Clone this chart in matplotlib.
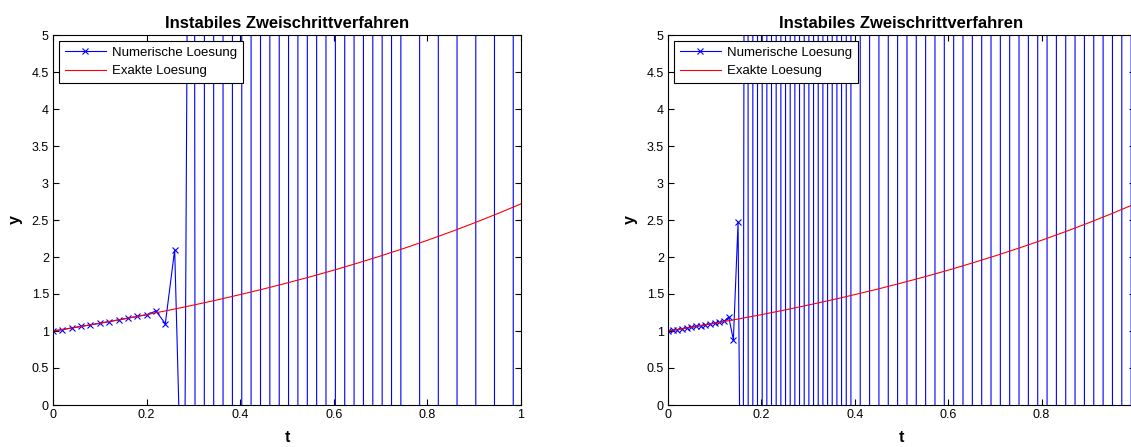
import matplotlib
matplotlib.use("Agg")
import matplotlib.pyplot as plt

# Data #######################################################################

# step h = 0.02 (left panel)
t_left = [0.00, 0.02, 0.04, 0.06, 0.08, 0.10, 0.12, 0.14, 0.16, 0.18,
          0.20, 0.22, 0.24, 0.26, 0.28, 0.30, 0.32, 0.34, 0.36, 0.38,
          0.40, 0.42, 0.44, 0.46, 0.48, 0.50, 0.52, 0.54, 0.56, 0.58,
          0.60, 0.62, 0.64, 0.66, 0.68, 0.70, 0.72, 0.74, 0.76, 0.78,
          0.80, 0.82, 0.84, 0.86, 0.88, 0.90, 0.92, 0.94, 0.96, 0.98,
          1.00]
y_left = [1.000, 1.020, 1.041, 1.062, 1.083, 1.105, 1.127, 1.150, 1.174, 1.197,
          1.220, 1.270, 1.100, 2.100, -2.7, 2.1e1, -1.0e2, 5.0e2, -2.5e3, 1.25e4,
          -6.2e4, 3.1e5, -1.6e6, 7.8e6, -3.9e7, 1.9e8, -9.7e8, 4.9e9, -2.4e10, 1.2e11,
          -6.1e11, 3.0e12, -1.5e13, 7.6e13, -3.8e14, 1.9e15, -9.5e15, 4.7e16, -2.4e17, -1.2e18,
          5.9e18, 3.0e19, -1.5e20, -7.4e20, 3.7e21, 1.9e22, -9.3e22, -4.6e23, 2.3e24, 1.2e25,
          -5.8e25]

# step h = 0.01 (right panel)
t_right = [0.00, 0.01, 0.02, 0.03, 0.04, 0.05, 0.06, 0.07, 0.08, 0.09,
           0.10, 0.11, 0.12, 0.13, 0.14, 0.15, 0.16, 0.17, 0.18, 0.19,
           0.20, 0.21, 0.22, 0.23, 0.24, 0.25, 0.26, 0.27, 0.28, 0.29,
           0.30, 0.31, 0.32, 0.33, 0.34, 0.35, 0.36, 0.37, 0.38, 0.39,
           0.40, 0.41, 0.42, 0.43, 0.44, 0.45, 0.46, 0.47, 0.48, 0.49,
           0.50, 0.51, 0.52, 0.53, 0.54, 0.55, 0.56, 0.57, 0.58, 0.59,
           0.60, 0.61, 0.62, 0.63, 0.64, 0.65, 0.66, 0.67, 0.68, 0.69,
           0.70, 0.71, 0.72, 0.73, 0.74, 0.75, 0.76, 0.77, 0.78, 0.79,
           0.80, 0.81, 0.82, 0.83, 0.84, 0.85, 0.86, 0.87, 0.88, 0.89,
           0.90, 0.91, 0.92, 0.93, 0.94, 0.95, 0.96, 0.97, 0.98, 0.99,
           1.00]
y_right = [1.000, 1.010, 1.020, 1.030, 1.041, 1.051, 1.062, 1.073, 1.083, 1.094,
           1.105, 1.116, 1.130, 1.190, 0.880, 2.470, -5.3, 3.3e1, -1.6e2, 8.2e2,
           -4.1e3, 2.0e4, -1.0e5, 5.1e5, -2.6e6, 1.3e7, -6.4e7, 3.2e8, -1.6e9, 8.0e9,
           -4.0e10, 2.0e11, -1.0e12, 5.0e12, -2.5e13, 1.2e14, -6.2e14, 3.1e15, -1.6e16, 7.8e16,
           -3.9e17, -1.9e18, 9.7e18, 4.9e19, -2.4e20, -1.2e21, 6.1e21, 3.0e22, -1.5e23, -7.6e23,
           3.8e24, 1.9e25, -9.5e25, -4.7e26, 2.4e27, 1.2e28, -5.9e28, -3.0e29, 1.5e30, 7.4e30,
           -3.7e31, -1.9e32, 9.3e32, 4.6e33, -2.3e34, -1.2e35, 5.8e35, 2.9e36, -1.4e37, -7.2e37,
           3.6e38, 1.8e39, -9.0e39, -4.5e40, 2.3e41, 1.1e42, -5.6e42, -2.8e43, 1.4e44, 7.0e44,
           -3.5e45, -1.8e46, 8.8e46, 4.4e47, -2.2e48, -1.1e49, 5.5e49, 2.7e50, -1.4e51, -6.8e51,
           3.4e52, 1.7e53, -8.5e53, -4.3e54, 2.1e55, 1.1e56, -5.3e56, -2.7e57, 1.3e58, 6.7e58,
           -3.3e59]

# exact solution
t_exact = [0.00, 0.05, 0.10, 0.15, 0.20, 0.25, 0.30, 0.35, 0.40, 0.45,
           0.50, 0.55, 0.60, 0.65, 0.70, 0.75, 0.80, 0.85, 0.90, 0.95, 1.00]
y_exact = [1.000, 1.051, 1.105, 1.162, 1.221, 1.284, 1.350, 1.419, 1.492, 1.568,
           1.649, 1.733, 1.822, 1.916, 2.014, 2.117, 2.226, 2.340, 2.460, 2.586, 2.718]

x_ticks = [0, 0.2, 0.4, 0.6, 0.8, 1]
x_ticklabels = ["0", "0.2", "0.4", "0.6", "0.8", "1"]
y_ticks = [0, 0.5, 1, 1.5, 2, 2.5, 3, 3.5, 4, 4.5, 5]
y_ticklabels = ["0", "0.5", "1", "1.5", "2", "2.5", "3", "3.5", "4", "4.5", "5"]

title = "Instabiles Zweischrittverfahren"

# Plot #######################################################################

plt.rcParams['font.family'] = ['Liberation Sans', 'DejaVu Sans']
plt.rcParams['path.simplify'] = False

fig = plt.figure(figsize=(11.31, 4.47), dpi=100)
ax_left = fig.add_axes([53/1131, 42/447, 468/1131, 370/447])
ax_right = fig.add_axes([668/1131, 42/447, 467/1131, 370/447])

for ax, t_num, y_num in [(ax_left, t_left, y_left), (ax_right, t_right, y_right)]:
    ax.plot(t_num, y_num, color=(0, 0, 1), marker='x', markersize=4,
            markeredgewidth=0.8, linewidth=0.8, label='Numerische Loesung')
    ax.plot(t_exact, y_exact, color=(1, 0, 0), linewidth=0.8, label='Exakte Loesung')
    ax.set_xlim(0, 1)
    ax.set_ylim(0, 5)
    ax.set_xticks(x_ticks)
    ax.set_yticks(y_ticks)
    ax.set_yticklabels(y_ticklabels)
    ax.tick_params(direction='in', top=True, right=True, length=4, width=0.8,
                   labelsize=9, pad=3)
    for s in ax.spines.values():
        s.set_linewidth(0.8)
    ax.set_title(title, fontsize=12, fontweight='bold', pad=5)
    ax.set_xlabel('t', fontsize=11.5, fontweight='bold', labelpad=6)
    ax.set_ylabel('y', fontsize=11.5, fontweight='bold', labelpad=6)
    leg = ax.legend(loc='upper left', fontsize=9.5, fancybox=False,
                    edgecolor='black', framealpha=1, borderaxespad=0.45,
                    handlelength=3.1, handletextpad=0.5, borderpad=0.45,
                    labelspacing=0.45)
    leg.get_frame().set_linewidth(0.8)

ax_left.set_xticklabels(x_ticklabels)
# the right panel runs past the picture's edge, its last label is not visible
ax_right.set_xticklabels(x_ticklabels[:-1] + [""])

plt.savefig('out.png', dpi=100)
